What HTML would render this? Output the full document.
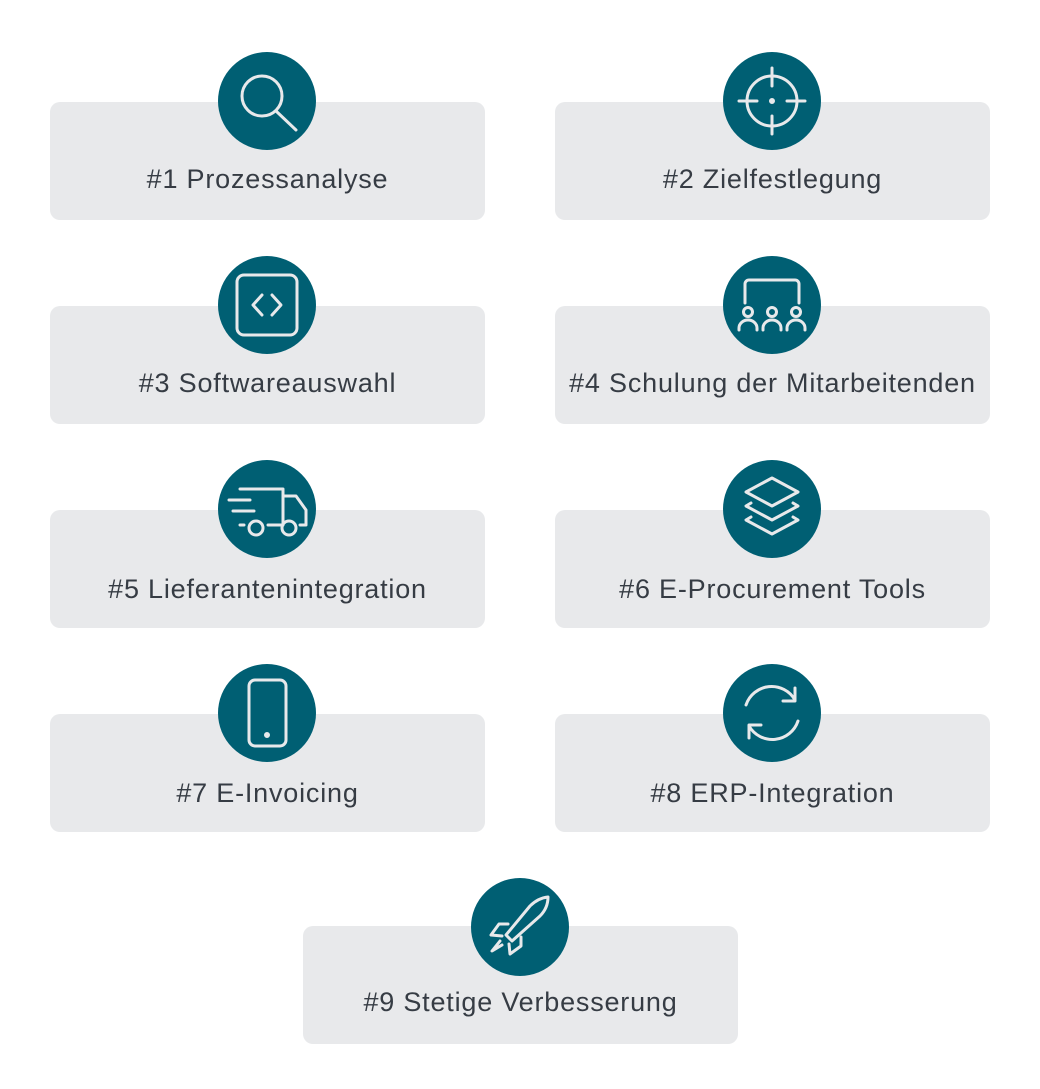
<!DOCTYPE html>
<html><head><meta charset="utf-8"><style>
body{margin:0;width:1040px;height:1089px;background:#fff;position:relative;font-family:"Liberation Sans",sans-serif;overflow:hidden}
.c{position:absolute;width:435px;height:118px;background:#e8e9eb;border-radius:10px}
.t{position:absolute;width:435px;text-align:center;font-size:27px;letter-spacing:0.8px;color:#363c44;line-height:30px}
svg{position:absolute;left:0;top:0}
</style></head><body>
<div class="c" style="left:50px;top:102px"></div>
<div class="c" style="left:555px;top:102px"></div>
<div class="c" style="left:50px;top:306px"></div>
<div class="c" style="left:555px;top:306px"></div>
<div class="c" style="left:50px;top:510px"></div>
<div class="c" style="left:555px;top:510px"></div>
<div class="c" style="left:50px;top:714px"></div>
<div class="c" style="left:555px;top:714px"></div>
<div class="c" style="left:303px;top:926px"></div>
<div class="t" style="left:50px;top:164px">#1 Prozessanalyse</div>
<div class="t" style="left:555px;top:164px">#2 Zielfestlegung</div>
<div class="t" style="left:50px;top:368px">#3 Softwareauswahl</div>
<div class="t" style="left:555px;top:368px">#4 Schulung der Mitarbeitenden</div>
<div class="t" style="left:50px;top:574px">#5 Lieferantenintegration</div>
<div class="t" style="left:555px;top:574px">#6 E-Procurement Tools</div>
<div class="t" style="left:50px;top:778px">#7 E-Invoicing</div>
<div class="t" style="left:555px;top:778px">#8 ERP-Integration</div>
<div class="t" style="left:303px;top:987px">#9 Stetige Verbesserung</div>
<svg width="1040" height="1089" fill="none" stroke="#e8e9eb" stroke-width="3" stroke-linecap="round" stroke-linejoin="round">
<g fill="#005f73" stroke="none">
<circle cx="267" cy="101" r="49"/><circle cx="772" cy="101" r="49"/>
<circle cx="267" cy="305" r="49"/><circle cx="772" cy="305" r="49"/>
<circle cx="267" cy="509" r="49"/><circle cx="772" cy="509" r="49"/>
<circle cx="267" cy="713" r="49"/><circle cx="772" cy="713" r="49"/>
<circle cx="520" cy="927" r="49"/>
</g>
<circle cx="262" cy="96" r="20"/><line x1="276" y1="111" x2="296" y2="130"/>
<circle cx="772" cy="101" r="25"/><line x1="772" y1="68" x2="772" y2="86"/><line x1="772" y1="116" x2="772" y2="134"/><line x1="739" y1="101" x2="757" y2="101"/><line x1="787" y1="101" x2="805" y2="101"/><circle cx="772" cy="101" r="1.5" fill="#e8e9eb"/>
<rect x="237" y="275" width="60" height="60" rx="7"/><polyline points="262,295 253,305 262,315"/><polyline points="272,295 281,305 272,315"/>
<path d="M745 303 V284 a4 4 0 0 1 4 -4 H795 a4 4 0 0 1 4 4 V303"/>
<circle cx="748" cy="312" r="4.5"/><circle cx="772" cy="312" r="4.5"/><circle cx="796" cy="312" r="4.5"/>
<path d="M739 330 v-2 a9 8 0 0 1 18 0 v2 M763 330 v-2 a9 8 0 0 1 18 0 v2 M787 330 v-2 a9 8 0 0 1 18 0 v2"/>
<path d="M240 489 H283 V512 M283 496 H296 L306 510 V525 H300 M283 525 H268 M240 525 H244 M283 512 V525"/>
<line x1="229" y1="500" x2="250" y2="500"/><line x1="233" y1="511" x2="254" y2="511"/>
<circle cx="256" cy="528" r="7"/><circle cx="289" cy="528" r="7"/>
<polygon points="772,478 798,492 772,506 746,492"/>
<polyline points="751,503 746,506 772,520 798,506 793,503"/>
<polyline points="751,517 746,520 772,534 798,520 793,517"/>
<rect x="249" y="680" width="37" height="66" rx="6"/><circle cx="267" cy="735" r="1.5" fill="#e8e9eb"/>
<path d="M746 705 A27 27 0 0 1 795 700"/><polyline points="795,688 795,701 783,701"/>
<path d="M798 721 A27 27 0 0 1 749 726"/><polyline points="749,738 749,725 761,725"/>
<path d="M506 935 L530 906 Q538 898 548 897 Q548 908 540 916 L512 941 Z"/>
<path d="M508 924 L499 924 L491 935 L502 936"/><path d="M521 937 L521 946 L510 954 L509 944"/>
<path d="M500 941 L492 951 L502 945"/>
</svg>
</body></html>
